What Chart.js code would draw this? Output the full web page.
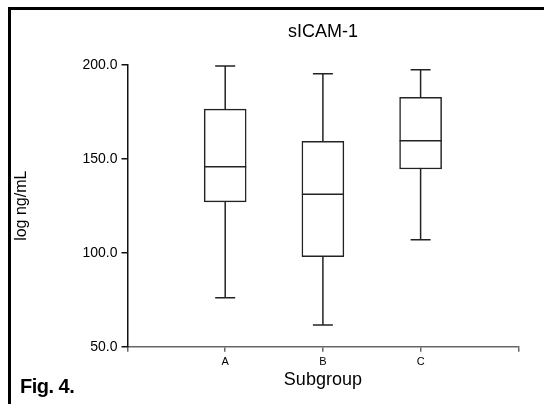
<!DOCTYPE html>
<html>
<head>
<meta charset="utf-8">
<script src="https://cdn.jsdelivr.net/npm/chart.js@4/dist/chart.umd.min.js"></script>
<style>
  body { margin: 0; background: #fff; }
  #wrap { position: relative; width: 544px; height: 404px; overflow: hidden; }
  #chart { position: absolute; left: 0; top: 0; }
  .edge { position: absolute; background: #000; z-index: 2; }
  #fig { position: absolute; left: 20px; top: 376px; font: bold 20px/20px 'Liberation Sans', Arial, sans-serif; color: #000; z-index: 2; letter-spacing: -0.5px; }
</style>
</head>
<body>
<div id="wrap">
  <canvas id="chart" width="544" height="404"></canvas>
  <div class="edge" style="left:8px;top:7px;width:536px;height:3px"></div>
  <div class="edge" style="left:8px;top:7px;width:3px;height:397px"></div>
  <div id="fig">Fig. 4.</div>
</div>
<script>
// box plot values per subgroup
const categories = ['A', 'B', 'C'];
const mins    = [76.1, 61.5, 106.9];
const q1s     = [127.0, 97.9, 144.5];
const medians = [145.7, 131.1, 159.6];
const q3s     = [176.4, 159.3, 182.7];
const maxs    = [199.3, 195.2, 197.3];
const yTicks  = [50, 100, 150, 200];

Chart.defaults.font.family = "'Liberation Sans', Arial, sans-serif";
Chart.defaults.color = '#000';

const boxData = categories.map((c, i) => ({ x: i + 1, y: [q1s[i], q3s[i]] }));
const whiskerData = categories.flatMap((c, i) => [
    { x: i + 1, y: mins[i] },
    { x: i + 1, y: maxs[i] },
    { x: i + 1.5, y: null }
]);
const capData = categories.flatMap((c, i) => [
    { x: i + 1, y: mins[i] },
    { x: i + 1, y: maxs[i] }
]);
const medianData = categories.map((c, i) => ({ x: i + 1, y: medians[i] }));

const lineColor = '#222';

const ctx = document.getElementById('chart').getContext('2d');
new Chart(ctx, {
    type: 'bar',
    data: {
        datasets: [
            {
                type: 'line',
                data: whiskerData,
                borderColor: lineColor,
                borderWidth: 1.5,
                pointRadius: 0,
                spanGaps: false,
                order: 3
            },
            {
                type: 'bar',
                data: boxData,
                backgroundColor: '#fff',
                borderColor: lineColor,
                borderWidth: 1.5,
                borderSkipped: false,
                barThickness: 42,
                order: 2
            },
            {
                type: 'line',
                data: capData,
                showLine: false,
                pointStyle: 'line',
                pointRadius: 10,
                pointHoverRadius: 10,
                pointBorderWidth: 1.5,
                pointBorderColor: lineColor,
                order: 1
            },
            {
                type: 'line',
                data: medianData,
                showLine: false,
                pointStyle: 'line',
                pointRadius: 21,
                pointHoverRadius: 21,
                pointBorderWidth: 1.5,
                pointBorderColor: lineColor,
                order: 0
            }
        ]
    },
    options: {
        responsive: false,
        animation: false,
        layout: { padding: { left: 0, right: 25.7, top: 0, bottom: 0 } },
        plugins: {
            legend: { display: false },
            tooltip: { enabled: false },
            title: {
                display: true,
                text: 'sICAM-1',
                fullSize: false,
                color: '#000',
                font: { size: 18, weight: 'normal' },
                padding: { top: 21.2, bottom: 21.9 }
            }
        },
        scales: {
            x: {
                type: 'linear',
                min: 0,
                max: 4,
                offset: false,
                afterFit: (scale) => { scale.height = 57.3; },
                ticks: {
                    stepSize: 1,
                    padding: 4,
                    font: { size: 11 },
                    callback: (v) => categories[v - 1] || ''
                },
                grid: { offset: false, drawOnChartArea: false, drawTicks: true, tickLength: 5, color: '#666', lineWidth: 1.5 },
                border: { color: '#666', width: 1.5 },
                title: {
                    display: true,
                    text: 'Subgroup',
                    font: { size: 18 },
                    padding: { top: 0, bottom: 13.2 }
                }
            },
            y: {
                min: 50,
                max: 200,
                afterFit: (scale) => { scale.width = 127.5; },
                afterBuildTicks: (scale) => { scale.ticks = yTicks.map(v => ({ value: v })); },
                ticks: {
                    padding: 4,
                    font: { size: 14 },
                    callback: (v) => v.toFixed(1)
                },
                grid: { drawOnChartArea: false, drawTicks: true, tickLength: 6, color: '#111', lineWidth: 1.5 },
                border: { color: '#111', width: 1.5 },
                title: {
                    display: true,
                    text: 'log ng/mL',
                    font: { size: 16 },
                    padding: { top: 12, bottom: 0 }
                }
            }
        }
    }
});
</script>
</body>
</html>
